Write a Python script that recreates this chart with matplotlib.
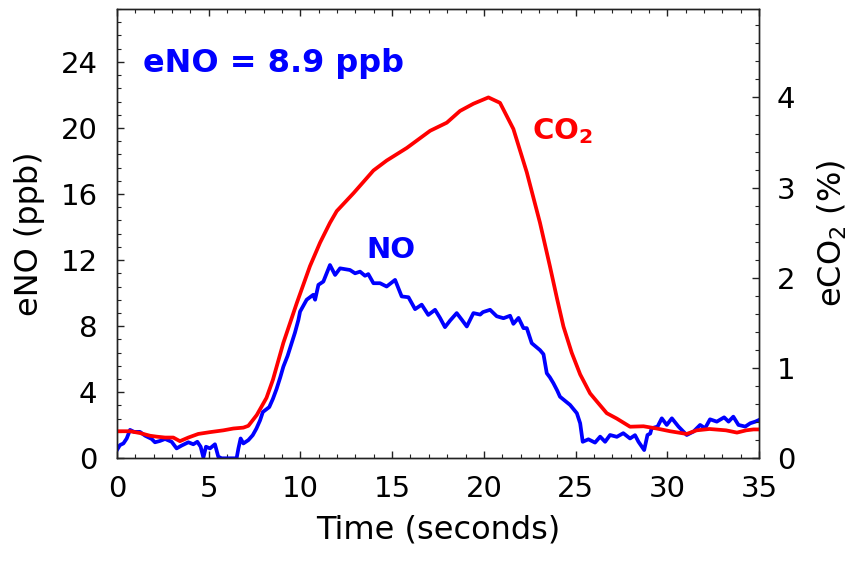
import matplotlib
matplotlib.use("Agg")
import matplotlib.pyplot as plt
from matplotlib.ticker import MultipleLocator

plt.rcParams['font.family'] = ['DejaVu Sans']
plt.rcParams['mathtext.fontset'] = 'dejavusans'

# ---- data ----
no_time = [0, 0.16, 0.35, 0.53, 0.71, 0.93, 1.25, 1.53, 1.89, 2.07, 2.34, 2.62, 2.98,
           3.25, 3.52, 3.89, 4.16, 4.38, 4.56, 4.71, 4.85, 5.07, 5.34, 5.52, 5.7,
           6.52, 6.62, 6.74, 6.89, 7.16, 7.4, 7.6, 7.8, 7.95, 8.3, 8.5, 8.7, 8.9,
           9.07, 9.3, 9.52, 9.7, 9.89, 9.98, 10.34, 10.7, 10.8, 10.98, 11.25, 11.61,
           11.89, 12.16, 12.7, 12.98, 13.25, 13.52, 13.7, 13.98, 14.34, 14.7, 15.16,
           15.52, 15.89, 16.25, 16.61, 16.97, 17.34, 17.61, 17.88, 18.16, 18.52,
           18.79, 19.07, 19.43, 19.8, 19.95, 20.34, 20.7, 21.07, 21.43, 21.61, 21.89,
           22.16, 22.34, 22.61, 23.06, 23.25, 23.43, 23.6, 23.79, 24.0, 24.15, 24.4,
           24.7, 25.07, 25.25, 25.39, 25.7, 26.06, 26.34, 26.61, 26.88, 27.25, 27.6,
           27.97, 28.24, 28.43, 28.74, 28.92, 29.07, 29.15, 29.47, 29.7, 29.97, 30.25,
           30.61, 31.06, 31.43, 31.79, 32.06, 32.33, 32.7, 33.1, 33.34, 33.6, 33.88,
           34.25, 34.52, 34.8, 35]
no_ppb = [0.5, 0.8, 0.9, 1.2, 1.72, 1.6, 1.6, 1.37, 1.17, 0.97, 1.05, 1.17, 1.0,
          0.6, 0.77, 0.97, 0.85, 1.0, 0.7, 0.05, 0.7, 0.6, 0.85, 0.1, 0.0,
          0.0, 0.6, 1.2, 0.9, 1.1, 1.4, 1.8, 2.3, 2.8, 3.1, 3.6, 4.2, 4.9,
          5.55, 6.2, 6.97, 7.6, 8.38, 8.88, 9.6, 9.9, 9.6, 10.5, 10.7, 11.7,
          11.1, 11.5, 11.4, 11.2, 11.3, 11.05, 11.15, 10.6, 10.6, 10.4, 10.8,
          9.8, 9.75, 9.03, 9.3, 8.68, 8.99, 8.5, 7.94, 8.34, 8.79,
          8.4, 7.98, 8.79, 8.7, 8.85, 8.99, 8.6, 8.48, 8.63, 8.14, 8.5,
          7.88, 7.88, 6.97, 6.55, 6.3, 5.15, 4.9, 4.55, 4.1, 3.73, 3.5,
          3.23, 2.73, 2.12, 1.0, 1.15, 0.95, 1.31, 1.0, 1.41, 1.3, 1.52,
          1.2, 1.4, 1.0, 0.5, 1.41, 1.5, 1.82, 1.92, 2.42, 2.02, 2.42,
          1.92, 1.41, 1.62, 2.02, 1.82, 2.36, 2.22, 2.48, 2.22, 2.52, 2.02,
          1.92, 2.12, 2.22, 2.32]

co2_time = [0, 0.71, 1.25, 1.8, 2.16, 2.62, 3.07, 3.43, 3.89, 4.43, 5.07, 5.8, 6.34,
            6.89, 7.16, 7.43, 7.62, 8.15, 8.5, 9.07, 9.8, 10.52, 11.07, 11.61, 11.98,
            12.9, 13.98, 14.7, 15.8, 17.07, 17.98, 18.7, 19.43, 20.25, 20.88, 21.61,
            22.34, 23.06, 23.6, 24.0, 24.34, 24.79, 25.25, 25.79, 26.16, 26.7, 27.25,
            27.97, 28.7, 29.43, 30.15, 31.06, 31.6, 32.3, 33.2, 33.8, 34.3, 34.7, 35]
co2_pct = [0.30, 0.30, 0.28, 0.25, 0.24, 0.23, 0.23, 0.19, 0.23, 0.27, 0.29, 0.31, 0.33,
           0.34, 0.36, 0.43, 0.48, 0.67, 0.87, 1.28, 1.72, 2.13, 2.39, 2.61, 2.74,
           2.94, 3.19, 3.30, 3.44, 3.63, 3.72, 3.85, 3.93, 4.00, 3.94, 3.65,
           3.17, 2.61, 2.13, 1.76, 1.46, 1.17, 0.93, 0.72, 0.63, 0.50, 0.44,
           0.35, 0.355, 0.33, 0.30, 0.27, 0.31, 0.325, 0.31, 0.285, 0.31, 0.32, 0.32]

x_ticks = [0, 5, 10, 15, 20, 25, 30, 35]
left_ticks = [0, 4, 8, 12, 16, 20, 24]
right_ticks = [0, 1, 2, 3, 4]

# ---- figure ----
fig = plt.figure(figsize=(8.57, 5.61), dpi=100)
ax = fig.add_axes([117/857, 1 - 458.3/561, (759-117)/857, (458.3-9)/561])
ax2 = ax.twinx()

ax.plot(no_time, no_ppb, color='#0000ff', lw=2.7, solid_joinstyle='round')
ax2.plot(co2_time, co2_pct, color='#ff0000', lw=2.7, solid_joinstyle='round')

ax.set_xlim(0, 35)
ax.set_ylim(0, 27.2)
ax2.set_ylim(0, 4.98)

ax.set_xticks(x_ticks)
ax.set_yticks(left_ticks)
ax2.set_yticks(right_ticks)
ax.xaxis.set_minor_locator(MultipleLocator(1))
ax.yaxis.set_minor_locator(MultipleLocator(0.8))
ax2.yaxis.set_minor_locator(MultipleLocator(0.2))

for a in (ax, ax2):
    for s in a.spines.values():
        s.set_linewidth(1.0)
        s.set_color('#222222')

ax.tick_params(axis='x', which='both', direction='in', top=True, bottom=True,
               labelsize=21, pad=12, color='#222222')
ax.tick_params(axis='x', which='major', length=5, width=1)
ax.tick_params(axis='x', which='minor', length=3, width=0.8)
ax.tick_params(axis='y', which='both', direction='in', left=True, right=False,
               labelsize=21, pad=14, color='#222222')
ax.tick_params(axis='y', which='major', length=5, width=1)
ax.tick_params(axis='y', which='minor', length=3, width=0.8)
ax2.tick_params(axis='y', which='both', direction='in', right=True, left=False,
                labelsize=21, pad=13, color='#222222')
ax2.tick_params(axis='y', which='major', length=5, width=1)
ax2.tick_params(axis='y', which='minor', length=3, width=0.8)

ax.set_xlabel('Time (seconds)', fontsize=23, labelpad=8)
ax.set_ylabel('eNO (ppb)', fontsize=23, labelpad=11)
ax2.set_ylabel(r'eCO$_\mathrm{2}$ (%)', fontsize=23, labelpad=14)

ax.text(1.4, 23.37, 'eNO = 8.9 ppb', color='#0000ff', fontsize=23,
        fontweight='bold', ha='left', va='baseline')
ax.text(13.6, 12.12, 'NO', color='#0000ff', fontsize=21,
        fontweight='bold', ha='left', va='baseline')
ax.text(22.6, 19.3, r'CO$_\mathbf{2}$', color='#ff0000', fontsize=21,
        fontweight='bold', ha='left', va='baseline')

fig.savefig('out.png', dpi=100)
